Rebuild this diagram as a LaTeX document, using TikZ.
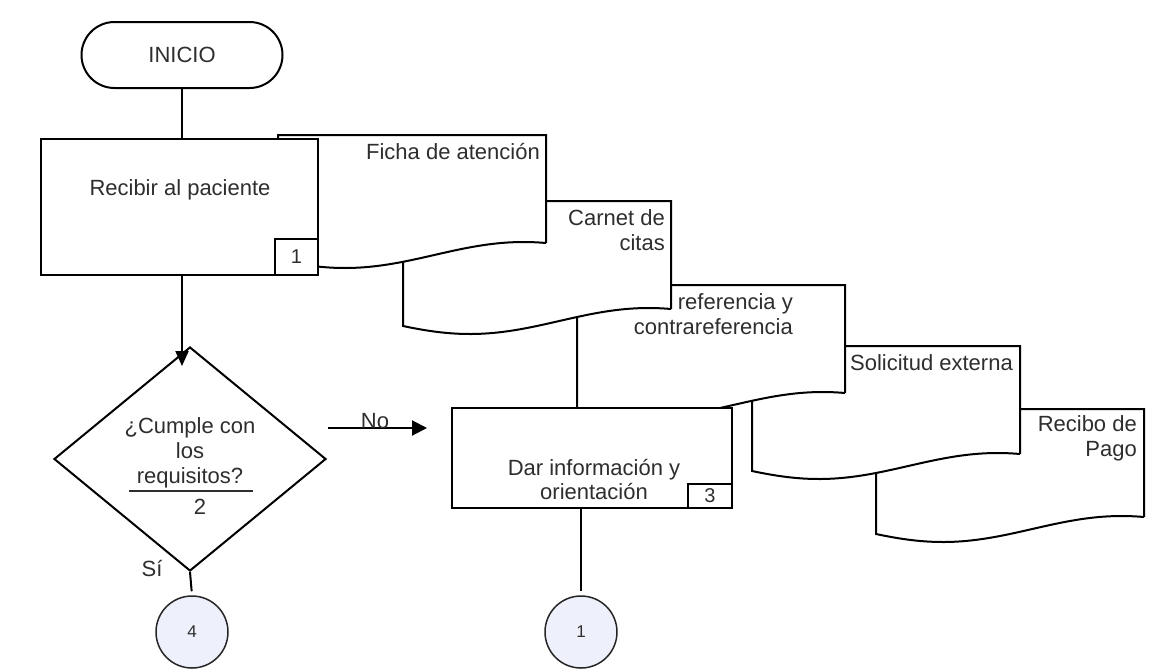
\documentclass[tikz,border=0pt]{standalone}
\usepackage{fontspec}
\setmainfont{Liberation Sans}
\usetikzlibrary{shapes.geometric,arrows.meta,calc}
\definecolor{connfill}{HTML}{EEF0FC}
\definecolor{ink}{HTML}{2E2E2E}

% Document symbol: top-left corner (#1,#2), width 268, wavy bottom edge
\newcommand\flowdoc[2]{%
  \draw[shape line, fill=white] (#1,#2) -- ({#1+268},#2) -- ({#1+268},{#2+108})
    -- plot[domain=1:0,samples=60] ({#1+268*\x},{#2+120+13*sin(22.6+270*\x)}) -- cycle;}

\tikzset{
  shape line/.style={draw=black, line width=2pt, line join=miter},
  procbox/.style={shape line, fill=white, rectangle, inner sep=0pt},
  lbl/.style={text=ink, font=\fontsize{22}{25}\selectfont, inner sep=0pt, align=center},
  numlbl/.style={text=ink, font=\fontsize{20}{20}\selectfont},
  connector/.style={circle, draw=black!85, line width=1.5pt, fill=connfill,
    minimum size=72pt, inner sep=0pt, text=ink, font=\fontsize{17}{17}\selectfont},
  flowarrow/.style={shape line, -{Triangle[length=15pt,width=13pt]}},
}

\begin{document}
\begin{tikzpicture}[x=1pt,y=-1pt]
\useasboundingbox[fill=white] (0,0) rectangle (1166,670);

% stacked documents, drawn back to front
\flowdoc{876}{409}
\flowdoc{752}{346}
\flowdoc{577}{285}
\flowdoc{403}{201}
\flowdoc{278}{135}

\node[lbl, anchor=east, align=right] (d1) at (540,152) {Ficha de atención};
\node[lbl, anchor=east, align=right] (d2) at (665,230.5) {Carnet de\\citas};
\node[lbl, anchor=east, align=right] (d3) at (793,314.5) {referencia y\\contrareferencia};
\node[lbl, anchor=east, align=right] (d4) at (1013,363) {Solicitud externa};
\node[lbl, anchor=east, align=right] (d5) at (1137,438.5) {Recibo de\\Pago};

% start terminator
\node[shape line, rounded corners=33pt, minimum width=201pt, minimum height=66pt,
      inner sep=0pt, lbl] (start) at (182,55) {INICIO};

% process 1
\node[procbox, minimum width=277pt, minimum height=136pt] (recibir) at (179.5,207) {};
\node[lbl] (recibirtxt) at (180,190) {Recibir al paciente};
\node[procbox, minimum width=43pt, minimum height=36pt, numlbl] (n1) at (296.5,257) {1};

% process 3
\node[procbox, minimum width=280pt, minimum height=100pt] (dar) at (592,458) {};
\node[lbl, font=\fontsize{22}{24}\selectfont] (dartxt) at (594,479) {Dar información y\\orientación};
\node[procbox, minimum width=44pt, minimum height=24pt, numlbl] (n3) at (710,496) {3};

% decision 2
\node[shape line, diamond, fill=white, minimum width=272pt, minimum height=224pt,
      inner sep=0pt] (dec) at (190,459) {};
\node[lbl] (dectxt) at (190,453) {¿Cumple con\\los\\requisitos?};
\draw[line width=2.5pt, draw=ink] (129,491) -- (253,491);
\node[lbl] (n2) at (200,507) {2};

% off-page connectors
\node[connector] (c4) at (192,632) {4};
\node[connector] (c1) at (581,632) {1};

% flow lines
\coordinate (decin) at (182,366);
\coordinate (noA) at (328,428);
\coordinate (noB) at (427,428);

\draw[shape line] (start.south) -- (start.south |- recibir.north);
\draw[flowarrow] (start.south |- recibir.south) -- (decin);
\draw[shape line, -{Triangle[length=15pt,width=15pt]}] (noA) -- (noB);
\node[lbl] (no) at (375,421) {No};
\draw[shape line, shorten >=4pt] (dec.south) -- (c4.north);
\node[lbl] (si) at (152,568) {Sí};
\draw[shape line, shorten >=4pt] (c1.north |- dar.south) -- (c1.north);
\end{tikzpicture}
\end{document}
